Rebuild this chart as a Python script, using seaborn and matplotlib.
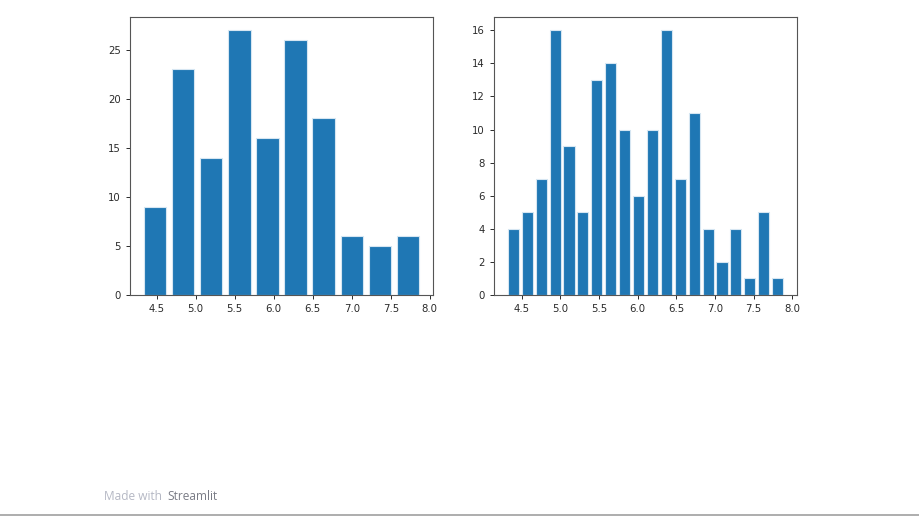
import numpy as np
import pandas as pd
import matplotlib
matplotlib.use("Agg")
import matplotlib.pyplot as plt
import seaborn as sns

# Histogram data (iris sepal length)
range_min, range_max = 4.3, 7.9
counts_10 = [9, 23, 14, 27, 16, 26, 18, 6, 5, 6]
counts_20 = [4, 5, 7, 16, 9, 5, 13, 14, 10, 6, 10, 16, 7, 11, 4, 2, 4, 1, 5, 1]

sns.set_style("ticks")
plt.rcParams["font.family"] = ["DejaVu Sans"]

fig = plt.figure(figsize=(9.19, 5.17), dpi=100)
ax1 = fig.add_axes([130 / 919, 1 - 295 / 517, 303 / 919, 278 / 517])
ax2 = fig.add_axes([494 / 919, 1 - 295 / 517, 303 / 919, 278 / 517])

for ax, counts in [(ax1, counts_10), (ax2, counts_20)]:
    nbins = len(counts)
    width = (range_max - range_min) / nbins
    centers = range_min + width * (np.arange(nbins) + 0.5)
    df = pd.DataFrame({"x": centers, "n": counts})
    sns.histplot(data=df, x="x", weights="n", binwidth=width,
                 binrange=(range_min, range_max), shrink=0.8,
                 color="#1f77b4", alpha=1, edgecolor="#d6e6f2", linewidth=0.8, ax=ax)
    # limits like matplotlib's 5% margin around the shrunk bars
    bar_lo, bar_hi = range_min + 0.1 * width, range_max - 0.1 * width
    pad = 0.05 * (bar_hi - bar_lo)
    ax.set_xlim(bar_lo - pad, bar_hi + pad)
    ax.set_ylim(0, max(counts) * 1.05)
    ax.set_xlabel("")
    ax.set_ylabel("")
    ax.set_xticks([4.5, 5.0, 5.5, 6.0, 6.5, 7.0, 7.5, 8.0])
    ax.tick_params(labelsize=7.3, colors="#2a2a2a", length=3, width=0.7)
    for s in ax.spines.values():
        s.set_visible(True)
        s.set_color("#555555")
        s.set_linewidth(0.8)

ax2.set_yticks(range(0, 17, 2))

# Streamlit footer
fig.text(104 / 919, 1 - 497 / 517, "Made with", color="#b5b8c4", fontsize=8.6,
         family=["Open Sans", "DejaVu Sans"], va="center")
fig.text(167 / 919, 1 - 497 / 517, "Streamlit", color="#7a7c86", fontsize=8.6,
         family=["Open Sans", "DejaVu Sans"], va="center")
fig.add_artist(plt.Line2D([0, 1], [1 - 515 / 517, 1 - 515 / 517], color="#a0a0a0", linewidth=1.2))

fig.savefig("out.png", dpi=100)
